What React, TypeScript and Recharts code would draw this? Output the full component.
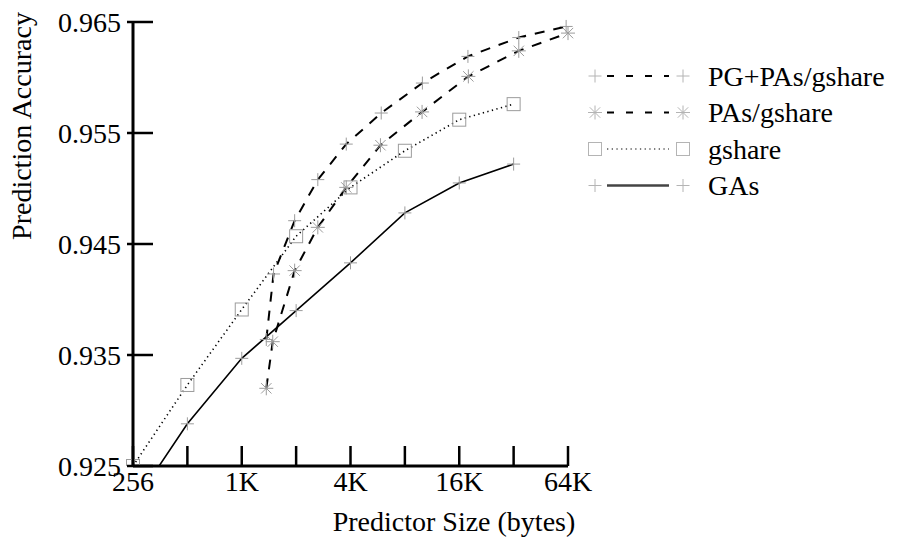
import React from "react";
import { Line, LineChart, XAxis, YAxis } from "recharts";

// predictor size in bytes (log2 axis) and the labelled ticks
const SIZE_TICKS = [256, 512, 1024, 2048, 4096, 8192, 16384, 32768, 65536];
const SIZE_LABELS: Record<number, string> = { 256: "256", 1024: "1K", 4096: "4K", 16384: "16K", 65536: "64K" };
const ACC_TICKS = [0.925, 0.935, 0.945, 0.955, 0.965];

const SERIES_NAMES = ["PG+PAs/gshare", "PAs/gshare", "gshare", "GAs"];

const PGPAS_SIZE = [1400, 1536, 2010, 2700, 3880, 6060, 10240, 18300, 35000, 64000];
const PGPAS_ACC = [0.9364, 0.9423, 0.9471, 0.9508, 0.954, 0.9568, 0.9595, 0.9619, 0.9636, 0.9646];

const PAS_SIZE = [1400, 1520, 2010, 2700, 3880, 6000, 10200, 18400, 35000, 65536];
const PAS_ACC = [0.932, 0.9362, 0.9426, 0.9465, 0.9501, 0.9539, 0.9569, 0.9601, 0.9624, 0.964];

const GSHARE_SIZE = [256, 512, 1024, 2048, 4096, 8192, 16384, 32768];
const GSHARE_ACC = [0.925, 0.9323, 0.9391, 0.9457, 0.9501, 0.9534, 0.9562, 0.9576];

const GAS_SIZE = [256, 512, 1024, 2048, 4096, 8192, 16384, 32768];
const GAS_ACC = [0.9215, 0.9288, 0.9347, 0.939, 0.9433, 0.9478, 0.9505, 0.9522];

const rows = (xs: number[], ys: number[]) => xs.map((size, i) => ({ size, acc: ys[i] }));

const FONT = "Liberation Serif, Times New Roman, Times, DejaVu Serif, serif";
const TXT = { fontFamily: FONT, fontSize: 28 };
const GREY = "#9c9c9c";
const AXIS_LINE = { stroke: "#000", strokeWidth: 3 };

type M = { x: number; y: number; color?: string };

function Plus({ x, y, color = GREY }: M) {
  const s = 6.5;
  return (
    <g stroke={color} strokeWidth={1}>
      <line x1={x - s} y1={y} x2={x + s} y2={y} />
      <line x1={x} y1={y - s} x2={x} y2={y + s} />
    </g>
  );
}

function Star({ x, y, color = GREY }: M) {
  const s = 7, d = 5.2;
  return (
    <g stroke={color} strokeWidth={1}>
      <line x1={x - s} y1={y} x2={x + s} y2={y} />
      <line x1={x} y1={y - s} x2={x} y2={y + s} />
      <line x1={x - d} y1={y - d} x2={x + d} y2={y + d} />
      <line x1={x - d} y1={y + d} x2={x + d} y2={y - d} />
    </g>
  );
}

function Square({ x, y, color = GREY }: M) {
  const s = 6.5;
  return <rect x={x - s} y={y - s} width={2 * s} height={2 * s} fill="none" stroke={color} strokeWidth={1} />;
}

const MARKERS = [Plus, Star, Square, Plus];
const DASHES = ["10 9", "10 9", "1.3 3.4", undefined];
const WIDTHS = [2, 2, 1.6, 1.6];

const dotFor = (k: number) => (p: any) => {
  const Mk = MARKERS[k];
  if (p.cx == null || p.cy == null) return <g key={p.index} />;
  return (
    <g key={p.index}>
      <Mk x={p.cx} y={p.cy} />
    </g>
  );
};

function XTick({ x, y, payload }: any) {
  const label = SIZE_LABELS[payload.value];
  return (
    <g>
      <line x1={x} x2={x} y1={y} y2={y - 20} stroke="#000" strokeWidth={2.5} />
      {label && (
        <text x={x} y={y + 25} textAnchor="middle" style={TXT} fill="#000">
          {label}
        </text>
      )}
    </g>
  );
}

function YTick({ x, y, payload }: any) {
  return (
    <g>
      <line x1={x - 6} x2={x + 20} y1={y} y2={y} stroke="#000" strokeWidth={2.5} />
      <text x={x - 12} y={y + 9.5} textAnchor="end" style={TXT} fill="#000">
        {payload.value.toFixed(3)}
      </text>
    </g>
  );
}

const LEGEND_Y = [76, 112.5, 149, 185.5];

export default function App() {
  const series = [
    { data: rows(PGPAS_SIZE, PGPAS_ACC), axis: "acc" },
    { data: rows(PAS_SIZE, PAS_ACC), axis: "acc" },
    { data: rows(GSHARE_SIZE, GSHARE_ACC), axis: "clip" },
    { data: rows(GAS_SIZE, GAS_ACC), axis: "clip" },
  ];

  return (
    <div style={{ position: "absolute", left: 0, top: 0, width: 898, height: 546, background: "#fff" }}>
      <LineChart width={898} height={546} margin={{ top: 22, right: 330, bottom: 0, left: 0 }}>
        <XAxis
          dataKey="size" type="number" scale="log" domain={[256, 65536]} ticks={SIZE_TICKS} interval={0}
          tick={XTick} tickLine={false} tickSize={0} tickMargin={0} axisLine={AXIS_LINE} height={80}
        />
        <YAxis
          yAxisId="acc" type="number" domain={[0.925, 0.965]} ticks={ACC_TICKS} interval={0}
          tick={YTick} tickLine={false} tickSize={0} tickMargin={0} axisLine={AXIS_LINE} width={133}
        />
        {/* same scale, but clipped: GAs starts below 0.925 */}
        <YAxis yAxisId="clip" hide type="number" domain={[0.925, 0.965]} allowDataOverflow />
        {series.map((s, k) => (
          <Line
            key={SERIES_NAMES[k]} name={SERIES_NAMES[k]} data={s.data} dataKey="acc" yAxisId={s.axis}
            type="linear" stroke="#000" strokeWidth={WIDTHS[k]} strokeDasharray={DASHES[k]}
            dot={dotFor(k)} activeDot={false} isAnimationActive={false}
          />
        ))}
      </LineChart>

      <svg width={898} height={546} style={{ position: "absolute", left: 0, top: 0, pointerEvents: "none" }}>
        <text x={454} y={531} textAnchor="middle" style={TXT} fill="#000">
          Predictor Size (bytes)
        </text>
        <text transform="translate(31,126) rotate(-90)" textAnchor="middle" style={TXT} fill="#000">
          Prediction Accuracy
        </text>
        {SERIES_NAMES.map((name, k) => {
          const y = LEGEND_Y[k];
          const Mk = MARKERS[k];
          const dash = k < 2 ? "7 12" : k === 2 ? "1.3 3.4" : undefined;
          return (
            <g key={name}>
              <Mk x={595} y={y} color="#b4b4b4" />
              <line x1={607} x2={669} y1={y} y2={y} stroke={k === 3 ? "#444" : "#000"}
                strokeWidth={k === 3 ? 2.5 : k === 2 ? 1.2 : 2} strokeDasharray={dash} />
              <Mk x={683} y={y} color="#b4b4b4" />
              <text x={708} y={y + 9.5} style={TXT} fill="#000">{name}</text>
            </g>
          );
        })}
      </svg>
    </div>
  );
}
